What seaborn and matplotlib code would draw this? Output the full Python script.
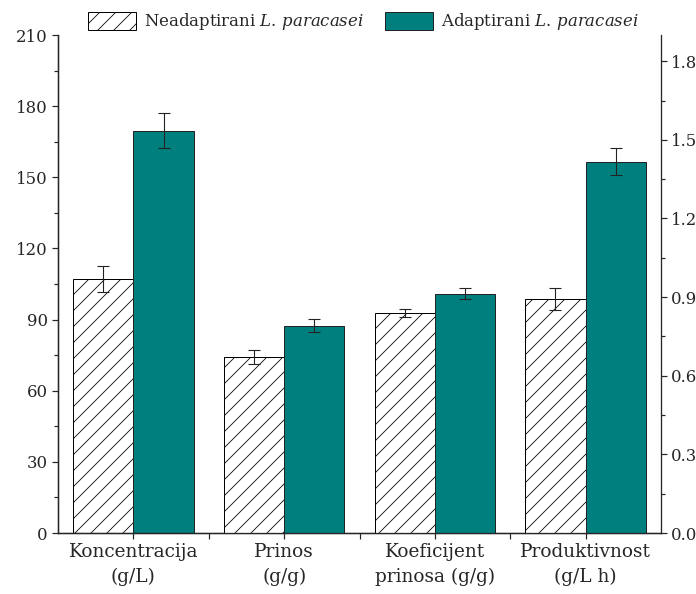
import numpy as np
import pandas as pd
import matplotlib
matplotlib.use('Agg')
import matplotlib.pyplot as plt
import seaborn as sns
from matplotlib.patches import Patch

# Data
categories = ['Koncentracija\n(g/L)', 'Prinos\n(g/g)', 'Koeficijent\nprinosa (g/g)', 'Produktivnost\n(g/L h)']
groups = ['Neadaptirani', 'Adaptirani']
neadapt = [107.0, 0.672, 0.840, 0.892]
neadapt_err = [5.4, 0.028, 0.014, 0.043]
adapt = [169.6, 0.791, 0.913, 1.417]
adapt_err = [7.3, 0.026, 0.020, 0.050]

teal = '#007f7f'
DPI = 96
pt = 72 / DPI  # pixels -> points
fs = 16.5 * pt
fs_x = 18.5 * pt

sns.set_style('ticks')
plt.rcParams['font.family'] = ['DejaVu Serif']
plt.rcParams['mathtext.fontset'] = 'custom'
plt.rcParams['mathtext.rm'] = 'DejaVu Serif'
plt.rcParams['mathtext.it'] = 'DejaVu Serif:italic'
plt.rcParams['hatch.linewidth'] = 0.8 * pt
plt.rcParams['hatch.color'] = '#444444'

# long table
rows = []
for i, c in enumerate(categories):
    rows.append({'cat': c, 'group': groups[0], 'val': neadapt[i], 'err': neadapt_err[i], 'idx': i})
    rows.append({'cat': c, 'group': groups[1], 'val': adapt[i], 'err': adapt_err[i], 'idx': i})
df = pd.DataFrame(rows)
left_df = df[df['idx'] == 0]
right_df = df[df['idx'] > 0]

fig = plt.figure(figsize=(696 / DPI, 594 / DPI), dpi=DPI)
ax = fig.add_axes([58 / 696, 1 - 533 / 594, (661 - 58) / 696, (533 - 35) / 594])
ax2 = ax.twinx()

pal = {groups[0]: 'white', groups[1]: teal}
sns.barplot(data=left_df, x='cat', y='val', hue='group', order=categories, hue_order=groups,
            palette=pal, saturation=1, edgecolor='#222222', linewidth=1.0 * pt, width=0.8,
            legend=False, ax=ax)
sns.barplot(data=right_df, x='cat', y='val', hue='group', order=categories, hue_order=groups,
            palette=pal, saturation=1, edgecolor='#222222', linewidth=1.0 * pt, width=0.8,
            legend=False, ax=ax2)

for a in (ax, ax2):
    for p in a.patches:
        fc = p.get_facecolor()
        if fc[0] > 0.9 and fc[1] > 0.9:
            p.set_hatch('//')
            p.set_edgecolor('black')

# error bars
offs = {groups[0]: -0.2, groups[1]: 0.2}
for _, r in df.iterrows():
    target = ax if r['idx'] == 0 else ax2
    target.errorbar(r['idx'] + offs[r['group']], r['val'], yerr=r['err'], fmt='none',
                    ecolor='#222222', elinewidth=1.1 * pt, capsize=6 * pt, capthick=1.1 * pt, zorder=5)

ax.set_xlim(-0.5, 3.5)
ax.set_ylim(0, 210)
ax2.set_ylim(0, 1.9)
ax.set_yticks(np.arange(0, 211, 30))
ax.set_yticks(np.arange(15, 210, 30), minor=True)
ax2.set_yticks(np.round(np.arange(0, 1.81, 0.3), 1))
ax2.set_yticks(np.arange(0.15, 1.9, 0.3), minor=True)
ax2.set_yticklabels([f'{v:.1f}' for v in np.arange(0, 1.81, 0.3)])
ax.set_xticks(range(4))
ax.set_xticklabels(categories, linespacing=1.45, fontsize=fs_x)
ax.set_xticks([0.5, 1.5, 2.5], minor=True)
ax.set_xlabel('')
ax.set_ylabel('')
ax2.set_ylabel('')

for a in (ax, ax2):
    a.spines['top'].set_visible(False)
    for s in a.spines.values():
        s.set_linewidth(1.3 * pt)
    a.tick_params(axis='y', which='major', labelsize=fs)
    a.tick_params(axis='both', which='major', direction='out', length=6 * pt, width=1.2 * pt,
                  pad=4 * pt)
    a.tick_params(axis='both', which='minor', direction='out', length=4 * pt, width=1.2 * pt)
ax.spines['right'].set_visible(False)
ax.tick_params(axis='x', which='minor', length=6 * pt)

handles = [Patch(facecolor='white', edgecolor='black', hatch='//', linewidth=1.0 * pt),
           Patch(facecolor=teal, edgecolor='#222222', linewidth=1.0 * pt)]
labels = [r'Neadaptirani $\it{L.\,paracasei}$', r'Adaptirani $\it{L.\,paracasei}$']
fig.legend(handles, labels, loc='center', bbox_to_anchor=(0.522, 1 - 22 / 594), ncol=2,
           frameon=False, fontsize=fs, handlelength=2.9, handleheight=1.25,
           handletextpad=0.5, columnspacing=1.3)

fig.savefig('out.png', dpi=DPI)
